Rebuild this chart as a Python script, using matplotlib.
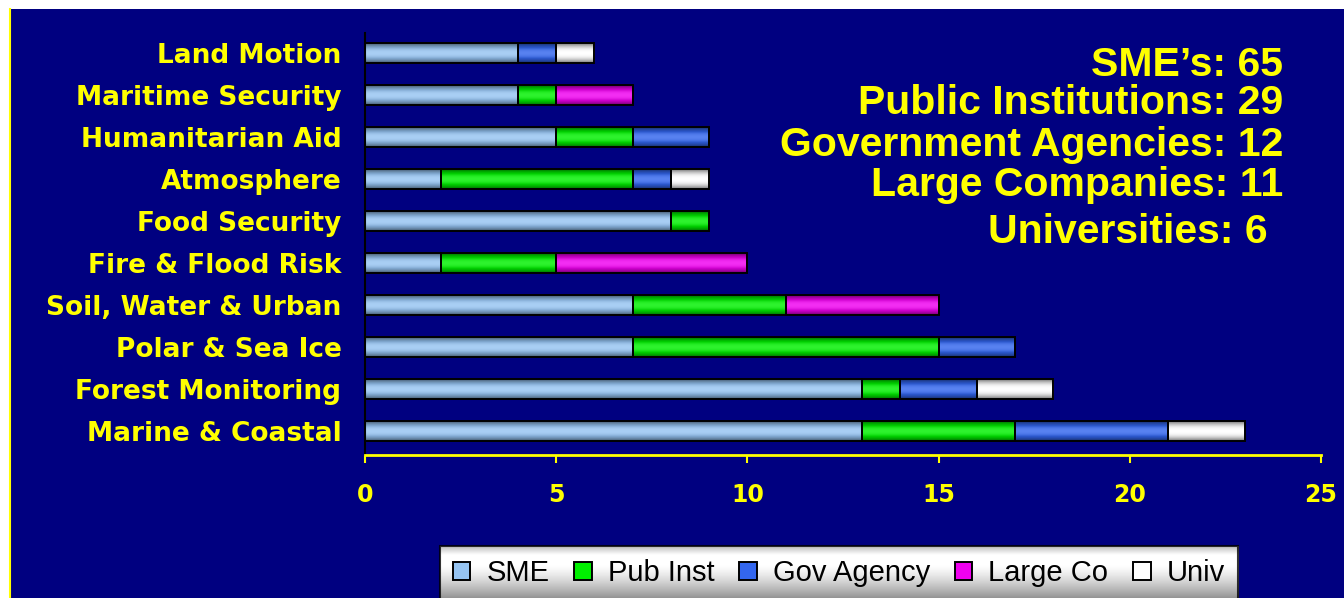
import matplotlib
matplotlib.use("Agg")
import matplotlib.pyplot as plt
from matplotlib.patches import Rectangle
from matplotlib.colors import to_rgb
import numpy as np

matplotlib.rcParams["font.family"] = "DejaVu Sans"

NAVY = "#000080"
YELLOW = "#FFFF00"

categories = ["Marine & Coastal", "Forest Monitoring", "Polar & Sea Ice",
              "Soil, Water & Urban", "Fire & Flood Risk", "Food Security",
              "Atmosphere", "Humanitarian Aid", "Maritime Security", "Land Motion"]
sme      = [13, 13, 7, 7, 2, 8, 2, 5, 4, 4]
pub_inst = [4, 1, 8, 4, 3, 1, 5, 2, 1, 0]
gov      = [4, 2, 2, 0, 0, 0, 1, 2, 0, 1]
large_co = [0, 0, 0, 4, 5, 0, 0, 0, 2, 0]
univ     = [2, 2, 0, 0, 0, 0, 1, 0, 0, 1]

series = [("SME", sme, "#96C4F2"),
          ("Pub Inst", pub_inst, "#00F000"),
          ("Gov Agency", gov, "#3366EE"),
          ("Large Co", large_co, "#F000F0"),
          ("Univ", univ, "#FFFFFF")]

summary = ["SME\u2019s: 65", "Public Institutions: 29", "Government Agencies: 12",
           "Large Companies: 11", "Universities: 6"]

W, H = 1344, 598
fig = plt.figure(figsize=(W / 100, H / 100), dpi=100)
fig.patch.set_facecolor("white")

# navy slide panel with yellow left rule
bg = fig.add_axes([0, 0, 1, 1], zorder=-5)
bg.set_xlim(0, W)
bg.set_ylim(H, 0)
bg.axis("off")
bg.add_patch(Rectangle((9, 9), W - 9, H - 9, fc=NAVY, ec="none"))
bg.plot([9.5, 9.5], [9, H], color=YELLOW, lw=1.5)

ax = fig.add_axes([365 / W, 1 - 455 / H, (1321 - 365) / W, (455 - 33) / H])
ax.set_facecolor("none")


def shade(col, n=40):
    # cylinder look: dark rims, light band near the middle
    base = np.array(to_rgb(col))
    t = np.linspace(-1, 1, n)
    k = np.abs(t) ** 2.2
    rows = []
    for v in k:
        c = base * (1 - 0.55 * v)
        if v < 0.25:
            c = c + (1 - c) * 0.18 * (1 - v / 0.25)
        rows.append(c)
    return np.array(rows)[:, None, :]


y = np.arange(len(categories))
left = np.zeros(len(categories))
for name, vals, col in series:
    vals = np.array(vals, dtype=float)
    bars = ax.barh(y, vals, left=left, height=0.46, color=col, edgecolor="black",
                   linewidth=1.4, label=name, zorder=3)
    img = shade(col)
    for p in bars:
        if p.get_width() <= 0:
            continue
        x0, y0 = p.get_x(), p.get_y()
        im = ax.imshow(img, extent=[x0, x0 + p.get_width(), y0, y0 + p.get_height()],
                       aspect="auto", origin="lower", zorder=2, interpolation="bilinear")
        im.set_clip_path(p)
        p.set_facecolor("none")
    left += vals

ax.set_xlim(0, 25)
ax.set_ylim(-0.57, 9.48)
ax.set_yticks(y)
ax.set_yticklabels(categories, color=YELLOW, fontsize=19, fontweight="bold")
ax.set_xticks([0, 5, 10, 15, 20, 25])
ax.set_xticklabels(["0", "5", "10", "15", "20", "25"], color=YELLOW,
                   fontsize=17, fontweight="bold")
ax.tick_params(axis="y", length=0, pad=17)
ax.tick_params(axis="x", colors=YELLOW, length=6, width=1.5, pad=14)
for s in ["top", "right"]:
    ax.spines[s].set_visible(False)
ax.spines["left"].set_color("black")
ax.spines["left"].set_linewidth(1.5)
ax.spines["bottom"].set_color(YELLOW)
ax.spines["bottom"].set_linewidth(2)

# totals block, right aligned
ys = [65, 103, 145, 185, 232]
xs = [1283, 1283, 1283, 1283, 1268]
for t, yy, xx in zip(summary, ys, xs):
    fig.text(xx / W, 1 - yy / H, t, color=YELLOW, fontsize=29.5, fontweight="bold",
             family="Liberation Sans", ha="right", va="center")

handles, labels = ax.get_legend_handles_labels()
leg = fig.legend(handles, labels, loc="upper center",
                 bbox_to_anchor=(839 / W, 1 - 546 / H),
                 ncol=5, frameon=True, handlelength=0.6,
                 handleheight=0.6, handletextpad=0.55, columnspacing=0.85,
                 borderpad=0.45, borderaxespad=0, fancybox=False,
                 prop={"family": "Liberation Sans", "size": 21})
for hp, (_, _, c) in zip(leg.legend_handles, series):
    hp.set_edgecolor("black")
    hp.set_linewidth(1.4)
    hp.set_facecolor(c)
leg.get_frame().set_facecolor("none")
leg.get_frame().set_edgecolor("black")
leg.get_frame().set_linewidth(1.5)

# grey-white gradient behind legend
fig.canvas.draw()
bb = leg.get_window_extent()
gx0, gx1 = bb.x0, bb.x1
gy_top, gy_bot = H - bb.y1, H - bb.y0
grad = np.linspace(0, 1, 50)
g = 1.0 - 0.45 * np.clip((grad - 0.35) / 0.65, 0, 1) ** 1.3 - 0.25 * np.clip(0.15 - grad, 0, 1) / 0.15
gimg = np.repeat(g[:, None], 3, axis=1)[:, None, :]
bg.imshow(gimg, extent=[gx0, gx1, gy_bot, gy_top], aspect="auto", origin="upper",
          zorder=2, interpolation="bilinear")
bg.set_xlim(0, W)
bg.set_ylim(H, 0)

fig.savefig("out.png", dpi=100, facecolor=fig.get_facecolor())
